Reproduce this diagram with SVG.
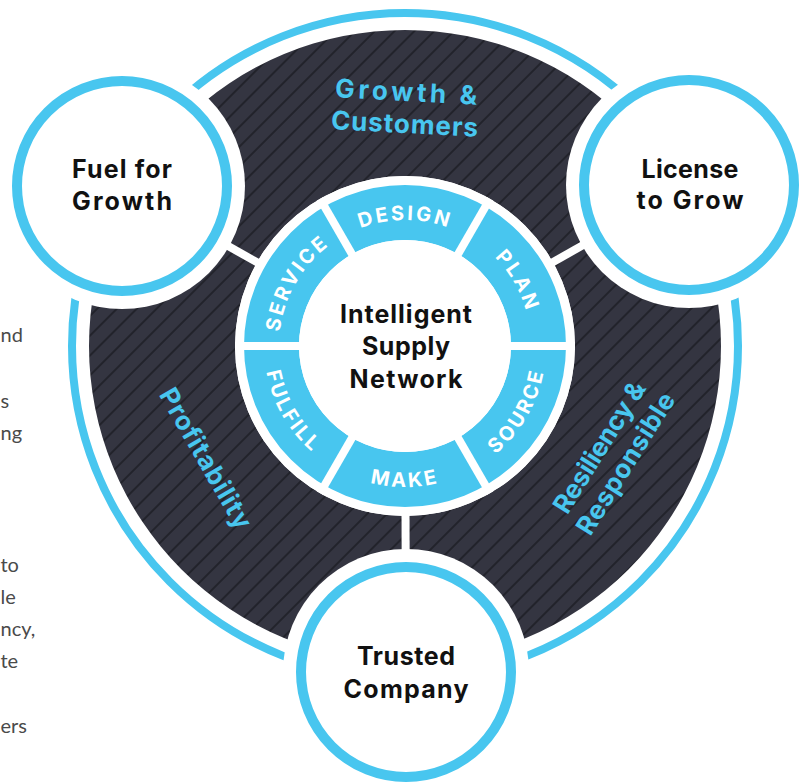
<svg xmlns="http://www.w3.org/2000/svg" width="805" height="782" viewBox="0 0 805 782">
<style>
.blue-ring{fill:none;stroke:#48c6ef;stroke-width:8}
.sep{stroke:#fff;stroke-width:8}
.halo{fill:#fff}
.sat{fill:#fff;stroke:#48c6ef;stroke-width:10}
.sat-t{font-family:Inter,"Liberation Sans",sans-serif;font-weight:700;font-size:25px;fill:#111;text-anchor:middle}
.ring-t{font-family:Inter,"Liberation Sans",sans-serif;font-weight:700;font-size:20px;fill:#fff;letter-spacing:2.6px}
.out-t{font-family:Inter,"Liberation Sans",sans-serif;font-weight:700;font-size:26px;fill:#48c6ef;text-anchor:middle}
.para{font-family:Lato,"Liberation Sans",sans-serif;font-size:20px;fill:#4a4a4a}
</style>
<defs>
<pattern id="hatch" patternUnits="userSpaceOnUse" width="14" height="14" patternTransform="rotate(45)">
<rect width="14" height="14" fill="#343541"/>
<line x1="7" y1="0" x2="7" y2="14" stroke="#16161b" stroke-width="1.2"/>
</pattern>
<path id="p-design" d="M324,249.5 A126,126 0 0 1 486,249.5"/>
<path id="p-plan" d="M448.1,227.6 A126,126 0 0 1 529.1,367.9"/>
<path id="p-service" d="M280.9,367.9 A126,126 0 0 1 361.9,227.6"/>
<path id="p-make" d="M314.4,454 A141,141 0 0 0 495.6,454"/>
<path id="p-source" d="M453.2,478.5 A141,141 0 0 0 543.9,321.5"/>
<path id="p-fulfill" d="M266.1,321.5 A141,141 0 0 0 356.8,478.5"/>
</defs>
<rect width="805" height="782" fill="#fff"/>

<g id="paragraph">
<text class="para" x="0.5" y="342">nd</text>
<text class="para" x="0.5" y="408">s</text>
<text class="para" x="0.5" y="440">ng</text>
<text class="para" x="0.5" y="572">to</text>
<text class="para" x="0.5" y="604">le</text>
<text class="para" x="0.5" y="636">ncy,</text>
<text class="para" x="0.5" y="668">te</text>
<text class="para" x="0.5" y="733">ers</text>
</g>

<g id="outer-ring">
<path d="M405,30 A316,316 0 1 1 405,662 A316,316 0 1 1 405,30 Z M405,176 A170,170 0 1 0 405,516 A170,170 0 1 0 405,176 Z" fill="url(#hatch)" fill-rule="evenodd"/>
<circle class="blue-ring" cx="405" cy="346" r="333"/>
</g>

<g id="connectors">
<line class="sep" x1="405" y1="346" x2="122" y2="186"/>
<line class="sep" x1="405" y1="346" x2="689" y2="185"/>
<line class="sep" x1="405" y1="346" x2="406" y2="672"/>
</g>

<g id="fuel-for-growth">
<circle class="halo" cx="122" cy="186" r="123"/>
<circle class="sat" cx="122" cy="186" r="105"/>
<text class="sat-t" x="122" y="178" textLength="100">Fuel for</text>
<text class="sat-t" x="122" y="210" textLength="100">Growth</text>
</g>

<g id="license-to-grow">
<circle class="halo" cx="689" cy="185" r="123"/>
<circle class="sat" cx="689" cy="185" r="105"/>
<text class="sat-t" x="690" y="178" textLength="97">License</text>
<text class="sat-t" x="690" y="209" textLength="107">to Grow</text>
</g>

<g id="trusted-company">
<circle class="halo" cx="406" cy="672" r="123"/>
<circle class="sat" cx="406" cy="672" r="105"/>
<text class="sat-t" x="406" y="665" textLength="98">Trusted</text>
<text class="sat-t" x="406" y="698" textLength="125">Company</text>
</g>

<g id="outer-labels">
<g transform="rotate(3 405 115)">
<text class="out-t" x="405" y="101" textLength="142">Growth &amp;</text>
<text class="out-t" x="405" y="133" textLength="147">Customers</text>
</g>
<text class="out-t" transform="translate(198 463) rotate(60)" x="0" y="0" textLength="158">Profitability</text>
<g transform="translate(612 455) rotate(-58)">
<text class="out-t" x="0" y="-6" textLength="150">Resiliency &amp;</text>
<text class="out-t" x="0" y="25" textLength="162">Responsible</text>
</g>
</g>

<g id="supply-ring">
<circle cx="405" cy="346" r="170" fill="#fff"/>
<circle cx="405" cy="346" r="133.5" fill="none" stroke="#48c6ef" stroke-width="55"/>
<line class="sep" x1="235" y1="346" x2="575" y2="346"/>
<line class="sep" x1="320" y1="198.8" x2="490" y2="493.2"/>
<line class="sep" x1="490" y1="198.8" x2="320" y2="493.2"/>
<circle cx="405" cy="346" r="106" fill="#fff"/>
<text class="ring-t"><textPath href="#p-design" startOffset="50%" text-anchor="middle">DESIGN</textPath></text>
<text class="ring-t"><textPath href="#p-plan" startOffset="50%" text-anchor="middle">PLAN</textPath></text>
<text class="ring-t"><textPath href="#p-service" startOffset="50%" text-anchor="middle">SERVICE</textPath></text>
<text class="ring-t"><textPath href="#p-make" startOffset="50%" text-anchor="middle">MAKE</textPath></text>
<text class="ring-t"><textPath href="#p-source" startOffset="50%" text-anchor="middle">SOURCE</textPath></text>
<text class="ring-t"><textPath href="#p-fulfill" startOffset="50%" text-anchor="middle">FULFILL</textPath></text>
</g>

<g id="intelligent-supply-network">
<text class="sat-t" x="406" y="323" textLength="132">Intelligent</text>
<text class="sat-t" x="406" y="355" textLength="88">Supply</text>
<text class="sat-t" x="406" y="388" textLength="113">Network</text>
</g>
</svg>
